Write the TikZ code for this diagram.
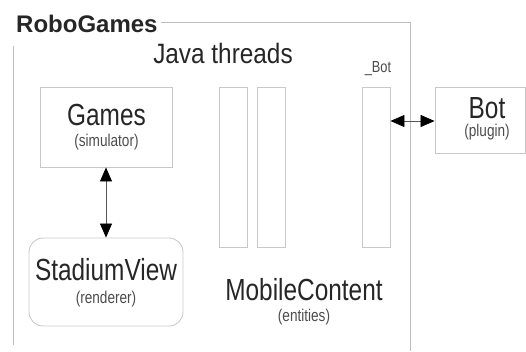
\documentclass[tikz,border=0pt]{standalone}
\usepackage{fontspec}
\setmainfont{Liberation Sans}
\newfontfamily\narfont{Liberation Sans}[FakeStretch=0.8]
\newfontfamily\midfont{Liberation Sans}[FakeStretch=0.87]
\usetikzlibrary{arrows.meta}
\definecolor{boxgray}{HTML}{C8C8C8}
\definecolor{framegray}{HTML}{BDBDBD}
\definecolor{arrowgray}{HTML}{555555}
\tikzset{
  box/.style={draw=boxgray, line width=0.9pt, inner sep=0pt},
  bigtxt/.style={font=\narfont\fontsize{30.5}{32}\selectfont, text=black!85, anchor=base, inner sep=0pt},
  smalltxt/.style={font=\narfont\fontsize{17}{18}\selectfont, text=black!70, anchor=base, inner sep=0pt},
  link/.style={draw=arrowgray, line width=0.8pt, {Triangle[length=14pt,width=12pt,black]}-{Triangle[length=14pt,width=12pt,black]}},
  frame/.style={draw=framegray, line width=0.8pt}
}
\begin{document}
\begin{tikzpicture}[x=1pt,y=-1pt]
\useasboundingbox (0,0) rectangle (526,351);
% frame
\node[anchor=base west, inner sep=0pt, font=\bfseries\fontsize{24}{26}\selectfont, text=black!85] (title) at (16,32.3) {RoboGames};
\coordinate (ftl) at (161,22);
\coordinate (ftr) at (410,22);
\coordinate (fbr) at (410,351);
\coordinate (flt) at (13,46);
\coordinate (flb) at (13,345);
\draw[frame] (ftl) -- (ftr) -- (fbr);
\draw[frame] (flt) -- (flb);
\node[anchor=base, inner sep=0pt, font=\midfont\fontsize{28}{30}\selectfont, text=black!85] (java) at (223,63) {Java threads};
% Games
\node[box, minimum width=132pt, minimum height=80pt] (games) at (106,127) {};
\node[bigtxt] (gamest) at (106.5,125) {Games};
\node[smalltxt] (gamess) at (106.5,146) {(simulator)};
% StadiumView
\node[box, rounded corners=14pt, minimum width=154pt, minimum height=88pt] (stadium) at (106,282) {};
\node[bigtxt] (stadt) at (106,280) {StadiumView};
\node[smalltxt] (stads) at (106,303) {(renderer)};
% thread bars
\node[box, minimum width=28pt, minimum height=160pt] (bar1) at (233,167) {};
\node[box, minimum width=28pt, minimum height=160pt] (bar2) at (271,167) {};
\node[box, minimum width=28pt, minimum height=160pt] (bar3) at (376,167) {};
\node[smalltxt, font=\narfont\fontsize{16}{17}\selectfont] (botlbl) at (378,72) {\_Bot};
\node[bigtxt] (mobt) at (304,300) {MobileContent};
\node[smalltxt] (mobs) at (304,321) {(entities)};
% Bot
\node[box, minimum width=90pt, minimum height=66pt] (bot) at (480,120) {};
\node[bigtxt] (bott) at (487,118.3) {Bot};
\node[smalltxt] (bots) at (487,136) {(plugin)};
% arrows
\draw[link] (games.south) -- (stadium.north);
\draw[link] (bar3.east |- 0,121) -- (bot.west |- 0,121);
\end{tikzpicture}
\end{document}
